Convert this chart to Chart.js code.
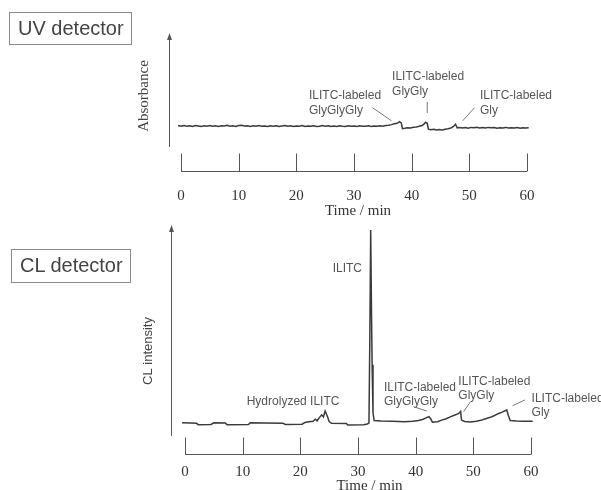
<!DOCTYPE html>
<html><head><meta charset="utf-8">
<script src="https://cdn.jsdelivr.net/npm/chart.js@4/dist/chart.umd.min.js"></script>
<style>
html,body{margin:0;padding:0;background:#fff;}
#wrap{position:relative;width:601px;height:490px;overflow:hidden;}
canvas{position:absolute;left:0;}
.box{position:absolute;border:1px solid #8a8a8a;font:20px "Liberation Sans",Arial,sans-serif;color:#444;line-height:31px;padding:0 0 0 8px;box-sizing:border-box;white-space:nowrap;}
</style></head><body>
<div id="wrap">
<canvas id="uv" width="601" height="220" style="top:0"></canvas>
<canvas id="cl" width="601" height="270" style="top:220px"></canvas>
<div class="box" style="left:9px;top:12px;width:123px;height:33px;">UV detector</div>
<div class="box" style="left:11px;top:249px;width:120px;height:34px;">CL detector</div>
</div>
<script>
// ---- data ----
const xTicks = [0, 10, 20, 30, 40, 50, 60];
const xTitle = 'Time / min';

const uvTime = [-0.5,0,0.5,1,1.5,2,2.5,3,3.5,4,4.5,5,5.5,6,6.5,7,7.5,8,8.5,9,9.5,10,10.5,11,11.5,12,12.5,13,13.5,14,14.5,15,15.5,16,16.5,17,17.5,18,18.5,19,19.5,20,20.5,21,21.5,22,22.5,23,23.5,24,24.5,25,25.5,26,26.5,27,27.5,28,28.5,29,29.5,30,30.5,31,31.5,32,32.5,33,33.5,34,34.5,35,35.5,36,36.5,37,37.5,37.9,38.2,38.4,38.8,39.3,39.8,40.3,40.8,41.3,41.8,42.1,42.4,42.7,42.9,43.3,43.8,44.3,44.8,45.3,45.8,46.3,46.8,47.2,47.6,47.9,48.3,48.8,49.3,49.8,50.3,50.8,51.3,51.8,52.3,52.8,53.3,53.8,54.3,54.8,55.3,55.8,56.3,56.8,57.3,57.8,58.3,58.8,59.3,59.8,60.3,60.7];
const uvAbs = [32.9,32.4,33.0,32.5,32.8,32.2,32.9,32.6,32.3,32.8,32.4,33.0,32.5,32.7,32.2,32.8,32.6,33.1,32.5,32.7,32.3,32.9,33.2,32.6,32.8,32.3,32.7,32.4,32.9,32.5,32.6,32.2,32.7,32.4,32.8,32.3,32.6,32.9,32.4,32.7,32.2,32.6,32.5,32.9,32.3,32.6,32.4,32.8,32.3,32.5,32.9,32.4,32.7,32.2,32.6,32.3,32.8,32.5,32.3,32.7,32.4,32.6,32.2,32.7,32.4,32.5,32.8,32.3,32.6,32.4,32.7,32.5,32.9,33.1,33.6,34.2,34.6,35.7,34.9,30.7,30.9,31.3,31.1,31.7,31.9,32.4,33.0,33.8,35.3,34.6,30.3,29.9,30.2,29.7,30.1,29.8,30.3,30.6,31.2,32.1,33.9,31.3,31.6,31.2,31.5,31.0,31.6,31.3,31.7,31.2,31.5,31.1,31.6,31.3,31.5,31.0,31.4,31.2,31.6,31.1,31.4,31.2,31.5,31.0,31.3,31.1,31.4,31.2];

const clTime = [-0.5,1,2,2.3,4.5,5,7,7.3,11,11.3,14,17,17.4,20.3,20.8,21.5,22.2,22.6,22.9,23.3,23.7,24.0,24.3,24.7,25.0,25.4,28.0,28.2,31.0,31.6,31.9,32.05,32.2,32.35,32.45,32.6,32.8,34,36,38,39.5,40.5,41.3,41.9,42.3,42.6,42.9,43.8,44.5,45.3,46.0,46.8,47.4,47.8,47.95,48.5,49.5,50.5,51.3,52.0,52.8,53.6,54.3,55.0,55.5,55.8,56.1,56.4,57.5,58.5,60.3];
const clInt = [13.6,13.5,13.4,12.8,12.9,13.6,13.5,12.8,12.9,13.6,13.5,13.4,12.9,13.0,13.8,14.1,14.3,15.2,14.5,15.9,17.1,16.2,18.8,16.4,14.2,13.4,13.3,12.7,12.8,13.1,13.5,50,97.8,60,39,18,14.6,14.4,14.3,14.1,14.3,14.6,15.2,15.9,16.3,15.4,13.9,14.1,14.8,15.4,16.2,17.0,17.6,18.6,14.8,14.2,14.0,14.3,14.7,15.3,15.9,16.7,17.6,18.3,18.9,19.2,16.6,14.6,14.4,14.3,14.3];

// ---- drawing ----
const SANS = '"Liberation Sans", Arial, sans-serif';
const SERIF = '"Liberation Serif", "Times New Roman", serif';

const decor = {
  id: 'decor',
  afterDatasetsDraw(chart, args, o) {
    const ctx = chart.ctx, xs = chart.scales.x, ys = chart.scales.y;
    const X = v => xs.getPixelForValue(v), Y = v => ys.getPixelForValue(v);
    ctx.save();
    // y axis arrow
    const ax = Math.round(X(o.axisAt)) + 0.5;
    const top = Y(ys.max);
    ctx.strokeStyle = '#555'; ctx.fillStyle = '#555'; ctx.lineWidth = 1;
    ctx.beginPath(); ctx.moveTo(ax, Y(o.axisBottom)); ctx.lineTo(ax, top + 5); ctx.stroke();
    ctx.beginPath(); ctx.moveTo(ax, top); ctx.lineTo(ax - 2.5, top + 7); ctx.lineTo(ax + 2.5, top + 7); ctx.closePath(); ctx.fill();
    // y title
    ctx.save();
    ctx.translate(o.yTitleX, o.yTitleY); ctx.rotate(-Math.PI / 2);
    ctx.font = o.yTitleFont; ctx.fillStyle = '#444'; ctx.textAlign = 'center'; ctx.textBaseline = 'middle';
    ctx.fillText(o.yTitle, 0, 0);
    ctx.restore();
    // x axis (separate, ticks pointing up)
    const by = Math.round(Y(ys.min)) + 0.5;
    ctx.strokeStyle = '#555';
    ctx.beginPath();
    ctx.moveTo(X(xTicks[0]), by); ctx.lineTo(X(xTicks[xTicks.length - 1]), by);
    xTicks.forEach(t => { const px = Math.round(X(t)) + 0.5; ctx.moveTo(px, by); ctx.lineTo(px, by - o.tickLen); });
    ctx.stroke();
    ctx.fillStyle = '#333'; ctx.font = '15px ' + SERIF; ctx.textAlign = 'center'; ctx.textBaseline = 'alphabetic';
    xTicks.forEach(t => ctx.fillText(String(t), X(t), by + o.labelDy));
    ctx.fillText(xTitle, X(o.titleAt), by + o.titleDy);
    // annotations
    ctx.font = '12px ' + SANS; ctx.fillStyle = '#555';
    o.notes.forEach(n => {
      ctx.textAlign = n.align || 'left';
      n.lines.forEach((s, i) => ctx.fillText(s, X(n.x), Y(n.y) + i * 14.3));
    });
    ctx.strokeStyle = '#777';
    o.leaders.forEach(l => {
      ctx.beginPath(); ctx.moveTo(X(l[0]), Y(l[1])); ctx.lineTo(X(l[2]), Y(l[3])); ctx.stroke();
    });
    ctx.restore();
  }
};

function makeChart(id, times, vals, pad, deco) {
  return new Chart(document.getElementById(id), {
    type: 'line',
    data: { datasets: [{
      data: times.map((t, i) => ({ x: t, y: vals[i] })),
      borderColor: '#3a3a3a', borderWidth: 1.5, pointRadius: 0, tension: 0, fill: false, clip: false
    }]},
    options: {
      responsive: false, animation: false, events: [],
      layout: { padding: pad },
      scales: {
        x: { type: 'linear', min: 0, max: 60, display: false },
        y: { type: 'linear', min: 0, max: 100, display: false }
      },
      plugins: { legend: { display: false }, tooltip: { enabled: false }, decor: deco }
    },
    plugins: [decor]
  });
}

makeChart('uv', uvTime, uvAbs, { left: 181, right: 74, top: 33, bottom: 49 }, {
  axisAt: -2.1, axisBottom: 17.4, tickLen: 18, labelDy: 28, titleDy: 43.5, titleAt: 30.7,
  yTitle: 'Absorbance', yTitleX: 144, yTitleY: 96, yTitleFont: '15px ' + SERIF,
  notes: [
    { x: 22.2, y: 52.0, lines: ['ILITC-labeled', 'GlyGlyGly'] },
    { x: 36.6, y: 65.6, lines: ['ILITC-labeled', 'GlyGly'] },
    { x: 51.85, y: 52.0, lines: ['ILITC-labeled', 'Gly'] }
  ],
  leaders: [[33.2, 45.9, 36.5, 36.4], [42.7, 50.0, 42.7, 42.0], [50.9, 45.9, 48.85, 36.4]]
});

makeChart('cl', clTime, clInt, { left: 185, right: 70, top: 5, bottom: 36 }, {
  axisAt: -2.4, axisBottom: 7.9, tickLen: 17, labelDy: 21, titleDy: 35, titleAt: 32,
  yTitle: 'CL intensity', yTitleX: 148, yTitleY: 131, yTitleFont: '13px ' + SANS,
  notes: [
    { x: 30.7, y: 79.6, lines: ['ILITC'], align: 'right' },
    { x: 10.7, y: 21.4, lines: ['Hydrolyzed ILITC'] },
    { x: 34.5, y: 27.6, lines: ['ILITC-labeled', 'GlyGlyGly'] },
    { x: 47.4, y: 30.1, lines: ['ILITC-labeled', 'GlyGly'] },
    { x: 60.1, y: 22.8, lines: ['ILITC-labeled', 'Gly'] }
  ],
  leaders: [[39.6, 20.7, 41.9, 18.8], [49.5, 22.8, 48.3, 18.5], [58.95, 23.6, 56.8, 21.1]]
});
</script>
</body></html>
